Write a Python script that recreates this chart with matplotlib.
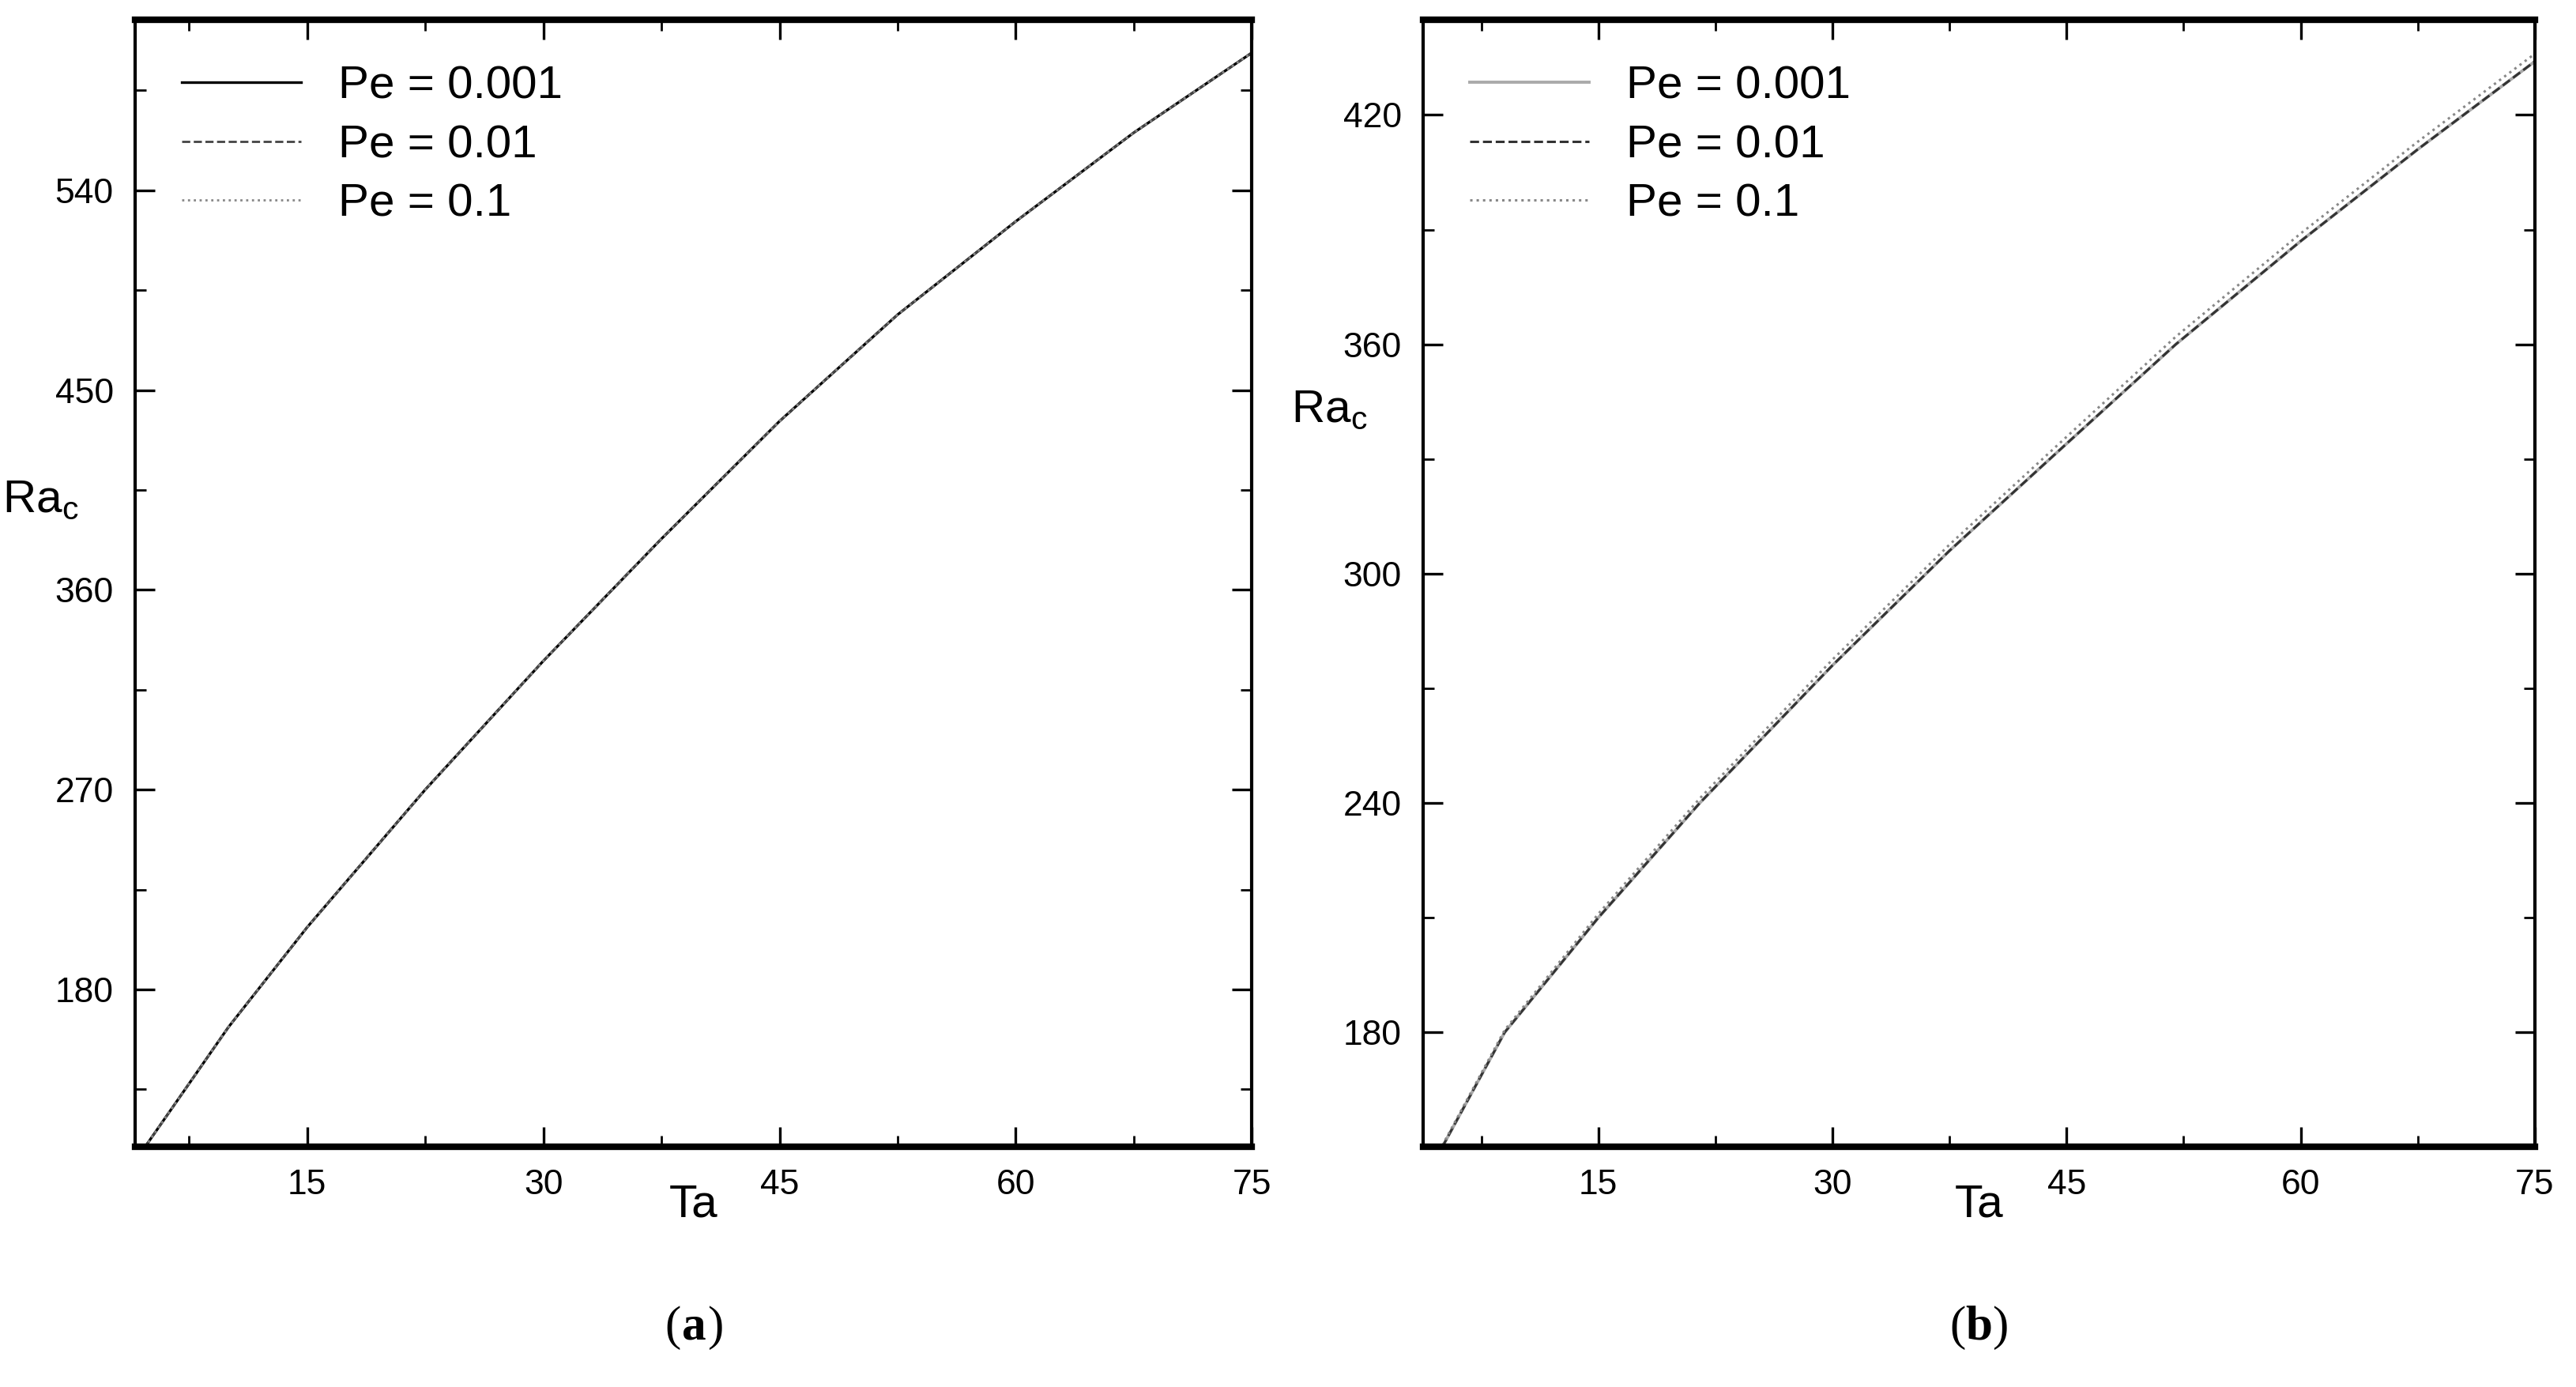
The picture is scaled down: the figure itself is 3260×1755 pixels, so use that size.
import matplotlib.pyplot as plt
from matplotlib.ticker import MultipleLocator
from matplotlib import font_manager

names = {f.name for f in font_manager.fontManager.ttflist}
font = 'Liberation Sans Narrow' if 'Liberation Sans Narrow' in names else 'Liberation Sans'
plt.rcParams['font.family'] = [font, 'DejaVu Sans']

# panel (a)
ta_a = [4.7, 10, 15, 22.5, 30, 37.5, 45, 52.5, 60, 67.5, 75]
ra_a = [109, 163, 208, 270, 328, 383, 436, 484, 526, 566, 602]
# panel (b)
ta_b = [5.0, 9.0, 15, 21.5, 30, 37.5, 45, 52, 60, 67.5, 75]
ra_b = [150, 180, 210, 240, 276, 306, 334, 360, 387, 411, 434]
ra_b01 = [150.4, 180.6, 211, 241.2, 277.5, 307.6, 335.8, 362, 389, 413, 436]

pe_labels = ['Pe = 0.001', 'Pe = 0.01', 'Pe = 0.1']

fig = plt.figure(figsize=(16.3, 8.775), dpi=200)
ax_a = fig.add_axes([0.0526, 0.173, 0.4334, 0.813])
ax_b = fig.add_axes([0.5526, 0.173, 0.4314, 0.813])

ax_a.plot(ta_a, ra_a, color='black', lw=1.2, ls='-', label=pe_labels[0])
ax_a.plot(ta_a, ra_a, color='#444444', lw=1.0, ls='--', label=pe_labels[1])
ax_a.plot(ta_a, ra_a, color='#888888', lw=1.0, ls=':', label=pe_labels[2])
ax_a.set_xlim(4.1, 75)
ax_a.set_ylim(109, 617)
ax_a.yaxis.set_major_locator(MultipleLocator(90))
ax_a.yaxis.set_minor_locator(MultipleLocator(45))

ax_b.plot(ta_b, ra_b, color='#aaaaaa', lw=1.4, ls='-', label=pe_labels[0])
ax_b.plot(ta_b, ra_b, color='#333333', lw=1.1, ls='--', label=pe_labels[1])
ax_b.plot(ta_b, ra_b01, color='#888888', lw=1.1, ls=':', label=pe_labels[2])
ax_b.set_xlim(3.8, 75)
ax_b.set_ylim(150, 445)
ax_b.yaxis.set_major_locator(MultipleLocator(60))
ax_b.yaxis.set_minor_locator(MultipleLocator(30))

for ax, cap in [(ax_a, 'a'), (ax_b, 'b')]:
    ax.xaxis.set_major_locator(MultipleLocator(15))
    ax.xaxis.set_minor_locator(MultipleLocator(7.5))
    ax.tick_params(which='major', direction='in', length=9, width=1.2, labelsize=16,
                   top=True, right=True, pad=10)
    ax.tick_params(which='minor', direction='in', length=5, width=1.0, top=True, right=True)
    for s in ax.spines.values():
        s.set_linewidth(1.5)
    ax.spines['top'].set_linewidth(3)
    ax.spines['bottom'].set_linewidth(3)
    ax.set_xlabel('Ta', fontsize=21, labelpad=-8)
    ax.set_ylabel('Ra$_\\mathregular{c}$', fontsize=21, rotation=0, labelpad=10)
    ax.legend(loc='upper left', frameon=False, fontsize=21, handlelength=2.6,
              labelspacing=0.35, borderaxespad=0.6)
    # caption "(a)" with bold letter
    ax.annotate(cap, (0.5, -0.16), xycoords='axes fraction', ha='center', va='center',
                fontsize=22, family='Liberation Serif', fontweight='bold')
    ax.annotate('(', (0.5, -0.16), xycoords='axes fraction', xytext=(-6, 0),
                textcoords='offset points', ha='right', va='center',
                fontsize=22, family='Liberation Serif')
    ax.annotate(')', (0.5, -0.16), xycoords='axes fraction', xytext=(6, 0),
                textcoords='offset points', ha='left', va='center',
                fontsize=22, family='Liberation Serif')

ax_a.yaxis.set_label_coords(-0.085, 0.555)
ax_b.yaxis.set_label_coords(-0.085, 0.635)

fig.savefig('out.png', dpi=200)
